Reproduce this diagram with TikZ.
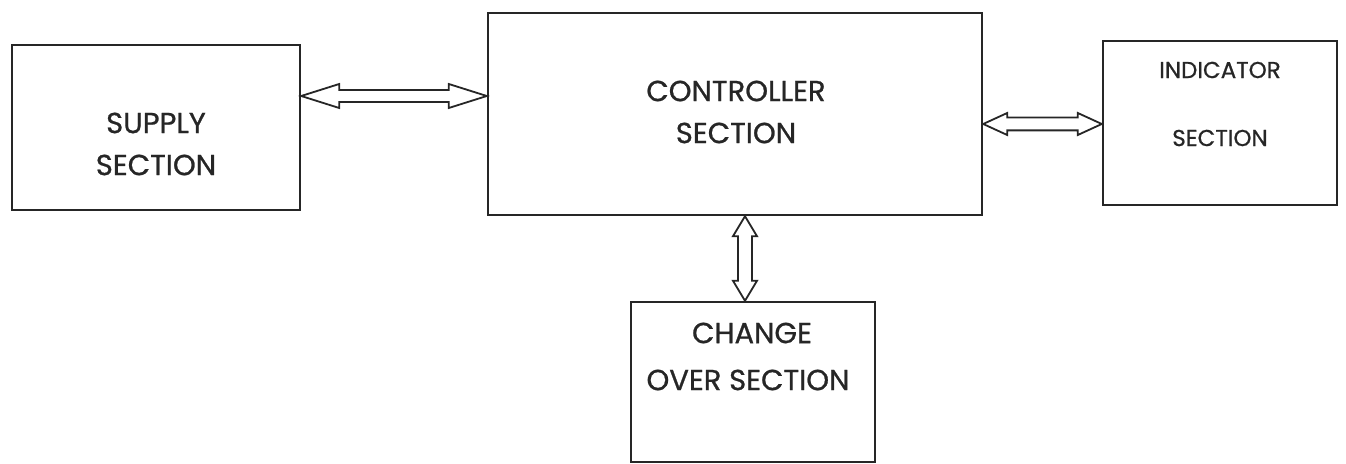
\documentclass[tikz,border=0pt]{standalone}
\usepackage{fontspec}
\setmainfont{Poppins}[FakeBold=0.8]
\begin{document}
\begin{tikzpicture}[x=0.5pt,y=-0.5pt,
  box/.style={draw=black!85, line width=1.2pt, inner sep=0pt},
  lbl/.style={font=\fontsize{14.5}{17}\selectfont, text=black!85, inner sep=0pt},
  slbl/.style={font=\fontsize{11.5}{14}\selectfont, text=black!85, inner sep=0pt},
  hollow/.style={draw=black!85, line width=0.9pt, fill=white, line join=miter}]
\useasboundingbox (0,0) rectangle (1346,464);
% boxes
\node[box, minimum width=144pt, minimum height=82.5pt] (sup) at (156,127.5) {};
\node[box, minimum width=247pt, minimum height=101pt] (ctl) at (735,114) {};
\node[box, minimum width=117pt, minimum height=82pt] (ind) at (1220,123) {};
\node[box, minimum width=122pt, minimum height=80pt] (chg) at (753,382) {};
% labels
\node[lbl] (supA) at (156,123) {SUPPLY};
\node[lbl] (supB) at (156,165) {SECTION};
\node[lbl] (ctlA) at (736,91) {CONTROLLER};
\node[lbl] (ctlB) at (736,133) {SECTION};
\node[slbl] (indA) at (1220,70) {INDICATOR};
\node[slbl] (indB) at (1220,138) {SECTION};
\node[lbl] (chgA) at (752,333) {CHANGE};
\node[lbl] (chgB) at (748,380) {OVER SECTION};
% arrow end points
\coordinate (a1) at (sup.east |- 0,96);
\coordinate (a2) at (ctl.west |- 0,96);
\coordinate (b1) at (ctl.east |- 0,124);
\coordinate (b2) at (ind.west |- 0,124);
\coordinate (c1) at (ctl.south -| 745,0);
\coordinate (c2) at (chg.north -| 745,0);
% horizontal hollow double arrows
\newcommand\hdarrowH[5]{% A, B, head length, head half, shaft half (pt)
  \draw[hollow] (#1) -- ([xshift=#3,yshift=#4]#1) -- ([xshift=#3,yshift=#5]#1)
    -- ([xshift=-#3,yshift=#5]#2) -- ([xshift=-#3,yshift=#4]#2) -- (#2)
    -- ([xshift=-#3,yshift=-#4]#2) -- ([xshift=-#3,yshift=-#5]#2)
    -- ([xshift=#3,yshift=-#5]#1) -- ([xshift=#3,yshift=-#4]#1) -- cycle;}
\newcommand\hdarrowV[5]{% A (top), B (bottom)
  \draw[hollow] (#1) -- ([yshift=-#3,xshift=#4]#1) -- ([yshift=-#3,xshift=#5]#1)
    -- ([yshift=#3,xshift=#5]#2) -- ([yshift=#3,xshift=#4]#2) -- (#2)
    -- ([yshift=#3,xshift=-#4]#2) -- ([yshift=#3,xshift=-#5]#2)
    -- ([yshift=-#3,xshift=-#5]#1) -- ([yshift=-#3,xshift=-#4]#1) -- cycle;}
\hdarrowH{a1}{a2}{19pt}{6pt}{3pt}
\hdarrowH{b1}{b2}{12pt}{5.5pt}{3.2pt}
\hdarrowV{c1}{c2}{10pt}{6pt}{3.5pt}
\end{tikzpicture}
\end{document}
